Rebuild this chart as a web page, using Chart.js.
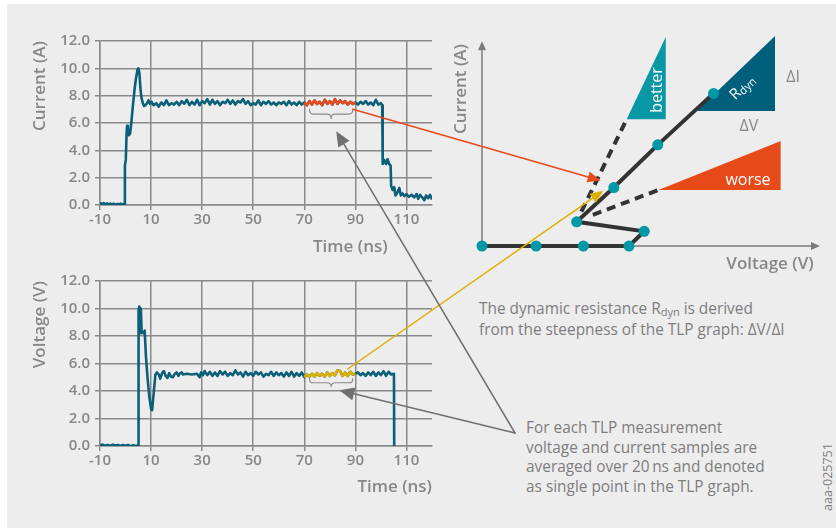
<!DOCTYPE html>
<html>
<head>
<meta charset="utf-8">
<title>TLP measurement</title>
<script src="https://cdn.jsdelivr.net/npm/chart.js@4.4.1/dist/chart.umd.min.js"></script>
<style>
  html, body { margin: 0; padding: 0; background: #fff; }
  #figure { position: relative; width: 836px; height: 528px; overflow: hidden; font-family: "Open Sans", sans-serif; color: #808080; }
  #panel { position: absolute; left: 7px; top: 4px; right: 0; bottom: 0; background: #ededed; }
  canvas { position: absolute; }
  #overlay { left: 0; top: 0; pointer-events: none; }
  .label { position: absolute; white-space: nowrap; }
  .title { font-size: 17px; font-weight: 600; line-height: 20px; color: #878787; }
  .rot { transform: translate(-50%, -50%) rotate(-90deg); }
  .center { transform: translate(-50%, -50%); }
  .note { font-size: 15.4px; line-height: 19.6px; color: #7d7d7d; }
  .sub { font-size: 11px; position: relative; top: 2px; }
  .wedge { color: #fff; font-size: 16px; line-height: 18px; }
  .delta { font-size: 16px; color: #878787; }
</style>
</head>
<body>
<div id="figure">
  <div id="panel"></div>
  <canvas id="currentChart" width="440" height="260" style="left:0;top:0"></canvas>
  <canvas id="voltageChart" width="440" height="268" style="left:0;top:260px"></canvas>
  <canvas id="tlpChart" width="396" height="260" style="left:440px;top:20px"></canvas>

  <div class="label title" style="left:313px;top:236px">Time (ns)</div>
  <div class="label title rot" style="left:460px;top:89px">Current (A)</div>
  <div class="label title center" style="left:770px;top:263px">Voltage (V)</div>

  <div class="label wedge rot" style="left:656px;top:90px">better</div>
  <div class="label wedge center" style="left:748px;top:179px">worse</div>
  <div class="label wedge center" style="left:742px;top:87px;transform:translate(-50%,-50%) rotate(-44deg);font-size:15px">R<span class="sub">dyn</span></div>
  <div class="label delta center" style="left:793px;top:76px">ΔI</div>
  <div class="label delta center" style="left:749px;top:125px">ΔV</div>

  <div class="label note" style="left:479px;top:299px;line-height:20px">The dynamic resistance R<span class="sub">dyn</span> is derived<br>from the steepness of the TLP graph: ΔV/ΔI</div>
  <div class="label note" id="avgNote" style="left:526px;top:418px">For each TLP measurement<br>voltage and current samples are<br>averaged over 20&#8201;ns and denoted<br>as single point in the TLP graph.</div>
  <div class="label rot" style="left:827px;top:477px;font-size:12.5px;color:#808080">aaa-025751</div>

  <canvas id="overlay" width="836" height="528"></canvas>
</div>

<script>
// Pulse current through the device, [time in ns, current in A]
const currentTrace = [
  [-10, 0.15], [-9.3, 0.08], [-8.6, 0.14], [-8, 0.06], [-7.3, 0.12], [-6.6, 0.04], [-6, 0.1], [-5.3, 0.05],
  [-4.6, 0.09], [-4, 0.03], [-3.3, 0.08], [-2.6, 0.05], [-2, 0.1], [-1.3, 0.04], [-0.7, 0.07], [-0.35, 0.06],
  [-0.25, 2.9], [0.1, 3.3], [0.4, 5.2], [0.6, 5.8], [0.9, 5.5], [1.3, 5.1], [1.8, 5.25], [2.3, 6.1],
  [2.9, 7.3], [3.5, 8.4], [4.1, 9.3], [4.7, 9.9], [5.0, 10.0], [5.4, 9.7], [5.8, 8.6], [6.2, 7.9],
  [6.7, 7.5], [7.2, 7.25], [7.8, 7.3], [8.4, 7.45], [9.0, 7.65], [9.6, 7.4], [10.2, 7.55],
  [11, 7.3], [12, 7.45], [13, 7.2], [14, 7.5], [15, 7.3], [16, 7.65], [17, 7.3], [18, 7.45], [19, 7.35],
  [20, 7.55], [21, 7.3], [22, 7.6], [23, 7.4], [24, 7.7], [25, 7.3], [26, 7.55], [27, 7.35], [28, 7.7],
  [29, 7.3], [30, 7.6], [31, 7.45], [32, 7.75], [33, 7.35], [34, 7.7], [35, 7.4], [36, 7.6], [37, 7.3],
  [38, 7.55], [39, 7.45], [40, 7.7], [41, 7.4], [42, 7.65], [43, 7.35], [44, 7.6], [45, 7.5], [46, 7.75],
  [47, 7.4], [48, 7.6], [49, 7.3], [50, 7.45], [51, 7.35], [52, 7.65], [53, 7.3], [54, 7.55], [55, 7.4],
  [56, 7.6], [57, 7.35], [58, 7.5], [59, 7.3], [60, 7.5], [61, 7.4], [62, 7.55], [63, 7.3], [64, 7.6],
  [65, 7.35], [66, 7.5], [67, 7.3], [68, 7.55], [69, 7.35], [70, 7.5], [71, 7.3], [72, 7.6], [73, 7.35],
  [74, 7.65], [75, 7.4], [76, 7.55], [77, 7.3], [78, 7.7], [79, 7.4], [80, 7.6], [81, 7.35], [82, 7.75],
  [83, 7.4], [84, 7.65], [85, 7.45], [86, 7.6], [87, 7.35], [88, 7.55], [89, 7.4], [90, 7.5], [91, 7.35],
  [92, 7.55], [93, 7.4], [94, 7.6], [95, 7.35], [96, 7.5], [97, 7.3], [98, 7.7], [99, 7.35], [100, 7.45],
  [100.5, 7.3], [100.7, 3.0], [101.3, 3.3], [102, 3.0], [102.6, 3.35], [103.2, 3.0], [103.8, 2.9],
  [104, 1.4], [104.6, 1.1], [105.2, 1.3], [105.7, 0.7], [106.4, 0.9], [107.2, 1.25], [107.8, 0.7],
  [108.5, 0.85], [109.2, 0.65], [110, 0.8], [111, 0.6], [112, 0.75], [113, 0.55], [114, 0.8], [114.6, 0.45],
  [115.3, 0.75], [116, 0.6], [117, 0.35], [117.7, 0.7], [118.5, 0.5], [119.2, 0.75], [120, 0.4]
];

// Voltage across the device, [time in ns, voltage in V]
const voltageTrace = [
  [-10, 0.05], [-9, 0.1], [-8, 0.02], [-7, 0.08], [-6, 0.0], [-5, 0.1], [-4, 0.03], [-3, 0.08], [-2, 0.0],
  [-1, 0.07], [0, 0.02], [1, 0.08], [2, -0.02], [3, 0.06], [4, 0.0], [4.9, 0.05],
  [5.1, 9.9], [5.4, 10.15], [5.7, 8.2], [6.0, 10.0], [6.3, 8.3], [7.0, 8.2], [7.5, 8.4], [8.0, 6.5],
  [8.6, 5.0], [9.3, 3.6], [10, 2.7], [10.4, 2.6], [11, 3.8], [11.7, 5.2], [12.3, 5.35], [13, 5.2],
  [13.6, 4.9], [14.3, 5.3], [15, 5.45], [15.7, 5.1], [16.4, 4.95], [17.1, 5.3], [17.8, 5.05], [18.5, 5.0],
  [19.3, 5.25], [20, 5.35], [20.7, 5.1], [21.4, 5.3], [22, 5.35], [22.5, 5.2], [24, 5.25], [26, 5.2],
  [28, 5.25], [29, 5.0], [29.6, 5.35], [30.3, 5.15], [31, 5.45], [32, 5.15], [33, 5.4], [34, 5.1],
  [35, 5.35], [36, 5.1], [37, 5.45], [38, 5.2], [39, 5.4], [40, 5.1], [41, 5.3], [42, 5.15], [43, 5.5],
  [44, 5.2], [45, 5.35], [46, 5.05], [47, 5.4], [48, 5.15], [49, 5.3], [50, 5.1], [51, 5.4], [52, 5.2],
  [53, 5.35], [54, 5.05], [55, 5.25], [56, 5.15], [57, 5.4], [58, 5.1], [59, 5.35], [60, 5.15], [61, 5.3],
  [62, 5.05], [63, 5.35], [64, 5.1], [65, 5.4], [66, 5.05], [67, 5.3], [68, 5.1], [69, 5.35], [70, 5.0],
  [71, 5.2], [72, 5.05], [73, 5.25], [74, 5.05], [75, 5.3], [76, 5.1], [77, 5.25], [78, 5.05], [79, 5.35],
  [80, 5.1], [81, 5.3], [82, 5.15], [83, 5.5], [84, 5.45], [85, 5.1], [86, 5.35], [87, 5.1], [88, 5.4],
  [89, 5.2], [90, 5.25], [91, 5.35], [92, 5.15], [93, 5.3], [94, 5.1], [95, 5.35], [96, 5.15], [97, 5.4],
  [98, 5.1], [99, 5.35], [100, 5.15], [101, 5.45], [102, 5.1], [103, 5.4], [104, 5.2], [105.1, 5.25],
  [105.2, 0.0]
];

const timeTicks = [-10, 10, 30, 50, 70, 90, 110];
const windowNs = [70, 90];      // 20 ns averaging window
const braceNs = [72, 89];

// TLP curve (arbitrary units), one point per averaged pulse
const tlpVoltage = [0, 1.6, 3.0, 4.35, 4.8, 2.8, 3.9, 5.2, 6.85];
const tlpCurrent = [0, 0, 0, 0, 0.42, 0.69, 1.67, 2.89, 4.36];
const betterV = [2.94, 4.28];
const betterI = [0.98, 3.62];
const worseV = [3.28, 5.22];
const worseI = [0.89, 1.6];
// slope wedges: [left, right] voltage, [base, top] current
const betterWedgeV = [4.28, 5.44];
const betterWedgeI = [3.62, 5.98];
const rdynWedgeV = [6.35, 8.67];
const rdynWedgeI = [3.86, 6.0];
const worseWedgeV = [5.22, 8.84];
const worseWedgeI = [1.6, 3.0];
const axisReach = [10, 5.85];

const TEAL_DARK = '#0c5f78';
const ORANGE = '#e8491d';
const YELLOW = '#dcb000';
const GRID = '#8a8a8a';
const TEXT = '#878787';
const FONT = 'Open Sans';

const toXY = pts => pts.map(([x, y]) => ({ x, y }));
const inWindow = pts => pts.filter(([t]) => t >= windowNs[0] && t <= windowNs[1]);

function waveformChart(canvasId, trace, highlight, yTitle, padding, xHeight, xTitle) {
  return new Chart(document.getElementById(canvasId), {
    type: 'line',
    data: {
      datasets: [
        { data: toXY(inWindow(trace)), borderColor: highlight, borderWidth: 2.6 },
        { data: toXY(trace), borderColor: TEAL_DARK, borderWidth: 2.6 }
      ]
    },
    options: {
      responsive: false,
      animation: false,
      layout: { padding },
      elements: { point: { radius: 0 }, line: { tension: 0, borderJoinStyle: 'round' } },
      plugins: { legend: { display: false }, tooltip: { enabled: false } },
      scales: {
        x: {
          type: 'linear', min: -10, max: 120,
          afterBuildTicks: s => { s.ticks = timeTicks.map(value => ({ value })); },
          afterFit: s => { s.height = xHeight; },
          grid: { color: GRID, lineWidth: 1.5, tickLength: 5 },
          border: { color: GRID, width: 1.5 },
          ticks: { color: TEXT, padding: 1, maxRotation: 0, font: { family: FONT, size: 15, weight: '600' } },
          title: {
            display: !!xTitle, text: xTitle, align: 'end', color: TEXT,
            padding: { top: 0, bottom: 31 }, font: { family: FONT, size: 17, weight: '600' }
          }
        },
        y: {
          min: 0, max: 12,
          afterFit: s => { s.width = 100; },
          grid: { color: GRID, lineWidth: 1.5, tickLength: 5 },
          border: { color: GRID, width: 1.5 },
          ticks: {
            stepSize: 2, color: TEXT, padding: 5,
            font: { family: FONT, size: 15, weight: '600' },
            callback: v => v.toFixed(1)
          },
          title: {
            display: true, text: yTitle, align: 'end', color: TEXT,
            padding: { top: 30, bottom: 0 }, font: { family: FONT, size: 17, weight: '600' }
          }
        }
      }
    }
  });
}

const currentChart = waveformChart('currentChart', currentTrace, ORANGE, 'Current (A)',
  { top: 41, right: 8, left: 0, bottom: 0 }, 55, '');
const voltageChart = waveformChart('voltageChart', voltageTrace, YELLOW, 'Voltage (V)',
  { top: 21, right: 8, left: 0, bottom: 0 }, 82, 'Time (ns)');

function arrow(ctx, from, to, color, width, headLen, headHalf) {
  const a = Math.atan2(to.y - from.y, to.x - from.x);
  const bx = to.x - headLen * Math.cos(a), by = to.y - headLen * Math.sin(a);
  ctx.save();
  ctx.strokeStyle = color;
  ctx.fillStyle = color;
  ctx.lineWidth = width;
  ctx.beginPath();
  ctx.moveTo(from.x, from.y);
  ctx.lineTo(bx, by);
  ctx.stroke();
  ctx.beginPath();
  ctx.moveTo(to.x, to.y);
  ctx.lineTo(bx + headHalf * Math.sin(a), by - headHalf * Math.cos(a));
  ctx.lineTo(bx - headHalf * Math.sin(a), by + headHalf * Math.cos(a));
  ctx.closePath();
  ctx.fill();
  ctx.restore();
}

// V and I axes of the TLP sketch, drawn as arrows under the curve
const axisArrows = {
  id: 'axisArrows',
  beforeDatasetsDraw(chart) {
    const { ctx, scales: { x, y } } = chart;
    const o = { x: x.getPixelForValue(0), y: y.getPixelForValue(0) };
    arrow(ctx, o, { x: x.getPixelForValue(axisReach[0]), y: o.y }, '#7b7b7b', 1.5, 9, 4);
    arrow(ctx, o, { x: o.x, y: y.getPixelForValue(axisReach[1]) }, '#7b7b7b', 1.5, 9, 4);
  }
};

const pairUp = (vs, is) => vs.map((v, k) => ({ x: v, y: is[k] }));
const wedge = (vs, is, color) => [
  { data: [{ x: vs[0], y: is[0] }, { x: vs[1], y: is[1] }], borderWidth: 0, pointRadius: 0, fill: '+1', backgroundColor: color },
  { data: [{ x: vs[0], y: is[0] }, { x: vs[1], y: is[0] }], borderWidth: 0, pointRadius: 0, fill: false }
];

const tlpChart = new Chart(document.getElementById('tlpChart'), {
  type: 'line',
  data: {
    datasets: [
      {
        data: pairUp(tlpVoltage, tlpCurrent), borderColor: '#333', borderWidth: 4,
        pointRadius: 5.5, pointBackgroundColor: '#0097a7', pointBorderWidth: 0
      },
      { data: pairUp(betterV, betterI), borderColor: '#333', borderWidth: 4, borderDash: [9, 6], pointRadius: 0 },
      { data: pairUp(worseV, worseI), borderColor: '#333', borderWidth: 4, borderDash: [9, 6], pointRadius: 0 },
      ...wedge(betterWedgeV, betterWedgeI, '#0897a4'),
      ...wedge(rdynWedgeV, rdynWedgeI, '#00607b'),
      ...wedge(worseWedgeV, worseWedgeI, '#e64a19')
    ]
  },
  options: {
    responsive: false,
    animation: false,
    layout: { padding: { left: 42, top: 9, right: 16, bottom: 34 } },
    datasets: { line: { clip: false, tension: 0 } },
    plugins: { legend: { display: false }, tooltip: { enabled: false } },
    scales: {
      x: { type: 'linear', min: 0, max: 10, display: false },
      y: { min: 0, max: 6.2, display: false }
    }
  },
  plugins: [axisArrows]
});

// Links between the waveforms and the TLP curve
function pagePoint(chart, x, y) {
  const c = chart.canvas;
  return { x: c.offsetLeft + chart.scales.x.getPixelForValue(x), y: c.offsetTop + chart.scales.y.getPixelForValue(y) };
}

function brace(ctx, chart, t0, t1, top, tip) {
  const a = pagePoint(chart, t0, top), b = pagePoint(chart, t1, tip);
  const x1 = a.x, x2 = b.x, y1 = a.y, y2 = b.y;
  const xm = (x1 + x2) / 2, ym = (y1 + y2) / 2, r = 4;
  ctx.beginPath();
  ctx.moveTo(x1, y1);
  ctx.quadraticCurveTo(x1, ym, x1 + r, ym);
  ctx.lineTo(xm - r, ym);
  ctx.quadraticCurveTo(xm, ym, xm, y2);
  ctx.quadraticCurveTo(xm, ym, xm + r, ym);
  ctx.lineTo(x2 - r, ym);
  ctx.quadraticCurveTo(x2, ym, x2, y1);
  ctx.stroke();
}

const ctx = document.getElementById('overlay').getContext('2d');
ctx.lineCap = 'round';
ctx.strokeStyle = '#8a8a8a';
ctx.lineWidth = 1.1;
brace(ctx, currentChart, braceNs[0], braceNs[1], 7.0, 6.3);
brace(ctx, voltageChart, braceNs[0], braceNs[1], 4.9, 4.3);

arrow(ctx, pagePoint(currentChart, 89, 7.0), pagePoint(tlpChart, 3.51, 1.87), ORANGE, 1.5, 13, 5.5);
arrow(ctx, pagePoint(voltageChart, 87, 5.6), pagePoint(tlpChart, 3.59, 1.58), YELLOW, 1.5, 13, 5.5);

const note = document.getElementById('avgNote');
const noteAnchor = { x: note.offsetLeft - 11, y: note.offsetTop + 15 };
arrow(ctx, noteAnchor, pagePoint(currentChart, 82.5, 5.4), '#707070', 1.5, 15, 6.5);
arrow(ctx, noteAnchor, pagePoint(voltageChart, 83.7, 4.05), '#707070', 1.5, 15, 6.5);
</script>
</body>
</html>
